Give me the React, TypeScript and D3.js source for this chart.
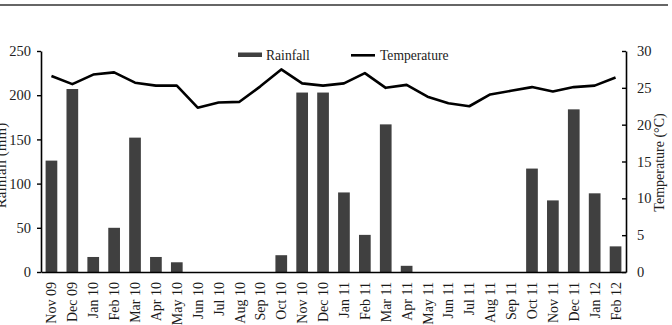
import React, { useEffect, useRef } from "react";
import * as d3 from "d3";

const months = [
  "Nov 09", "Dec 09", "Jan 10", "Feb 10", "Mar 10", "Apr 10", "May 10", "Jun 10",
  "Jul 10", "Aug 10", "Sep 10", "Oct 10", "Nov 10", "Dec 10", "Jan 11", "Feb 11",
  "Mar 11", "Apr 11", "May 11", "Jun 11", "Jul 11", "Aug 11", "Sep 11", "Oct 11",
  "Nov 11", "Dec 11", "Jan 12", "Feb 12",
];
const rainfall = [
  126, 207, 17, 50, 152, 17, 11, 0,
  0, 0, 0, 19, 203, 203, 90, 42,
  167, 7, 0, 0, 0, 0, 0, 117,
  81, 184, 89, 29,
];
const temperature = [
  26.6, 25.5, 26.8, 27.1, 25.7, 25.3, 25.3, 22.3,
  23.0, 23.1, 25.2, 27.5, 25.6, 25.3, 25.6, 27.0,
  25.0, 25.4, 23.8, 22.9, 22.5, 24.1, 24.6, 25.1,
  24.5, 25.1, 25.3, 26.4,
];
const rainTicks = [0, 50, 100, 150, 200, 250];
const tempTicks = [0, 5, 10, 15, 20, 25, 30];

const W = 672;
const H = 325;
const FONT = "'Liberation Serif', 'Times New Roman', serif";

const App = () => {
  const svgRef = useRef(null);
  const margin = { left: 41, right: 46, top: 51, bottom: 53 };

  useEffect(() => {
    const svg = d3.select(svgRef.current);
    svg.selectAll("*").remove();

    const x0 = margin.left;
    const x1 = W - margin.right;
    const y0 = H - margin.bottom;
    const y1 = margin.top;

    // top rule
    svg.append("line")
      .attr("x1", 0).attr("x2", 668).attr("y1", 5).attr("y2", 5)
      .attr("stroke", "#333").attr("stroke-width", 1.6);

    const x = d3.scaleBand()
      .domain(months)
      .range([x0, x1])
      .paddingInner(0.44)
      .paddingOuter(0.22);

    const yRain = d3.scaleLinear().domain([0, 250]).range([y0, y1]);
    const yTemp = d3.scaleLinear().domain([0, 30]).range([y0, y1]);

    // bars
    svg.append("g")
      .selectAll("rect")
      .data(rainfall)
      .enter()
      .append("rect")
      .attr("x", (d, i) => x(months[i]))
      .attr("y", d => yRain(d))
      .attr("width", x.bandwidth())
      .attr("height", d => y0 - yRain(d))
      .attr("fill", "#404040");

    // temperature line
    const line = d3.line()
      .x((d, i) => x(months[i]) + x.bandwidth() / 2)
      .y(d => yTemp(d));
    svg.append("path")
      .datum(temperature)
      .attr("d", line)
      .attr("fill", "none")
      .attr("stroke", "#000")
      .attr("stroke-width", 2.6)
      .attr("stroke-linejoin", "round");

    // left axis
    const leftAxis = svg.append("g")
      .attr("transform", `translate(${x0},0)`)
      .call(d3.axisLeft(yRain).tickValues(rainTicks).tickSize(4).tickPadding(6).tickSizeOuter(0));
    leftAxis.selectAll("text").attr("font-size", 14.5).attr("fill", "#222");

    // right axis (ticks pointing inward)
    const rightAxis = svg.append("g")
      .attr("transform", `translate(${x1},0)`)
      .call(d3.axisLeft(yTemp).tickValues(tempTicks).tickSize(4).tickSizeOuter(0));
    rightAxis.selectAll("text")
      .attr("text-anchor", "start")
      .attr("x", 11)
      .attr("font-size", 14.5)
      .attr("fill", "#222");

    // bottom axis
    const bottomAxis = svg.append("g")
      .attr("transform", `translate(0,${y0})`)
      .call(d3.axisBottom(x).tickSize(0).tickSizeOuter(0));
    bottomAxis.selectAll("text")
      .attr("transform", "rotate(-90)")
      .attr("text-anchor", "end")
      .attr("x", -10)
      .attr("y", 0)
      .attr("dy", "0.36em")
      .attr("font-size", 14)
      .attr("fill", "#1a1a1a");

    svg.selectAll(".domain").attr("stroke", "#000").attr("stroke-width", 1.6);
    svg.selectAll(".tick line").attr("stroke", "#000").attr("stroke-width", 1.4);
    svg.selectAll("text").attr("font-family", FONT);

    // axis titles
    svg.append("text")
      .attr("transform", `translate(6,${(y0 + y1) / 2 + 4}) rotate(-90)`)
      .attr("text-anchor", "middle")
      .attr("font-family", FONT)
      .attr("font-size", 15)
      .attr("fill", "#222")
      .text("Rainfall (mm)");
    svg.append("text")
      .attr("transform", `translate(664,${(y0 + y1) / 2 + 1}) rotate(-90)`)
      .attr("text-anchor", "middle")
      .attr("font-family", FONT)
      .attr("font-size", 14)
      .attr("fill", "#222")
      .text("Temperature (°C)");

    // legend
    const legend = svg.append("g").attr("font-family", FONT).attr("font-size", 13.6).attr("fill", "#222");
    legend.append("rect")
      .attr("x", 238).attr("y", 52.5).attr("width", 24).attr("height", 4.5)
      .attr("fill", "#404040");
    legend.append("text").attr("x", 266).attr("y", 59.5).text("Rainfall");
    legend.append("line")
      .attr("x1", 351).attr("x2", 375).attr("y1", 55.3).attr("y2", 55.3)
      .attr("stroke", "#000").attr("stroke-width", 2.6);
    legend.append("text").attr("x", 380).attr("y", 59.5).text("Temperature");
  }, []);

  return (
    <svg
      ref={svgRef}
      width={W}
      height={H}
      style={{ position: "absolute", left: 0, top: 0, background: "#fff" }}
    />
  );
};

export default App;
